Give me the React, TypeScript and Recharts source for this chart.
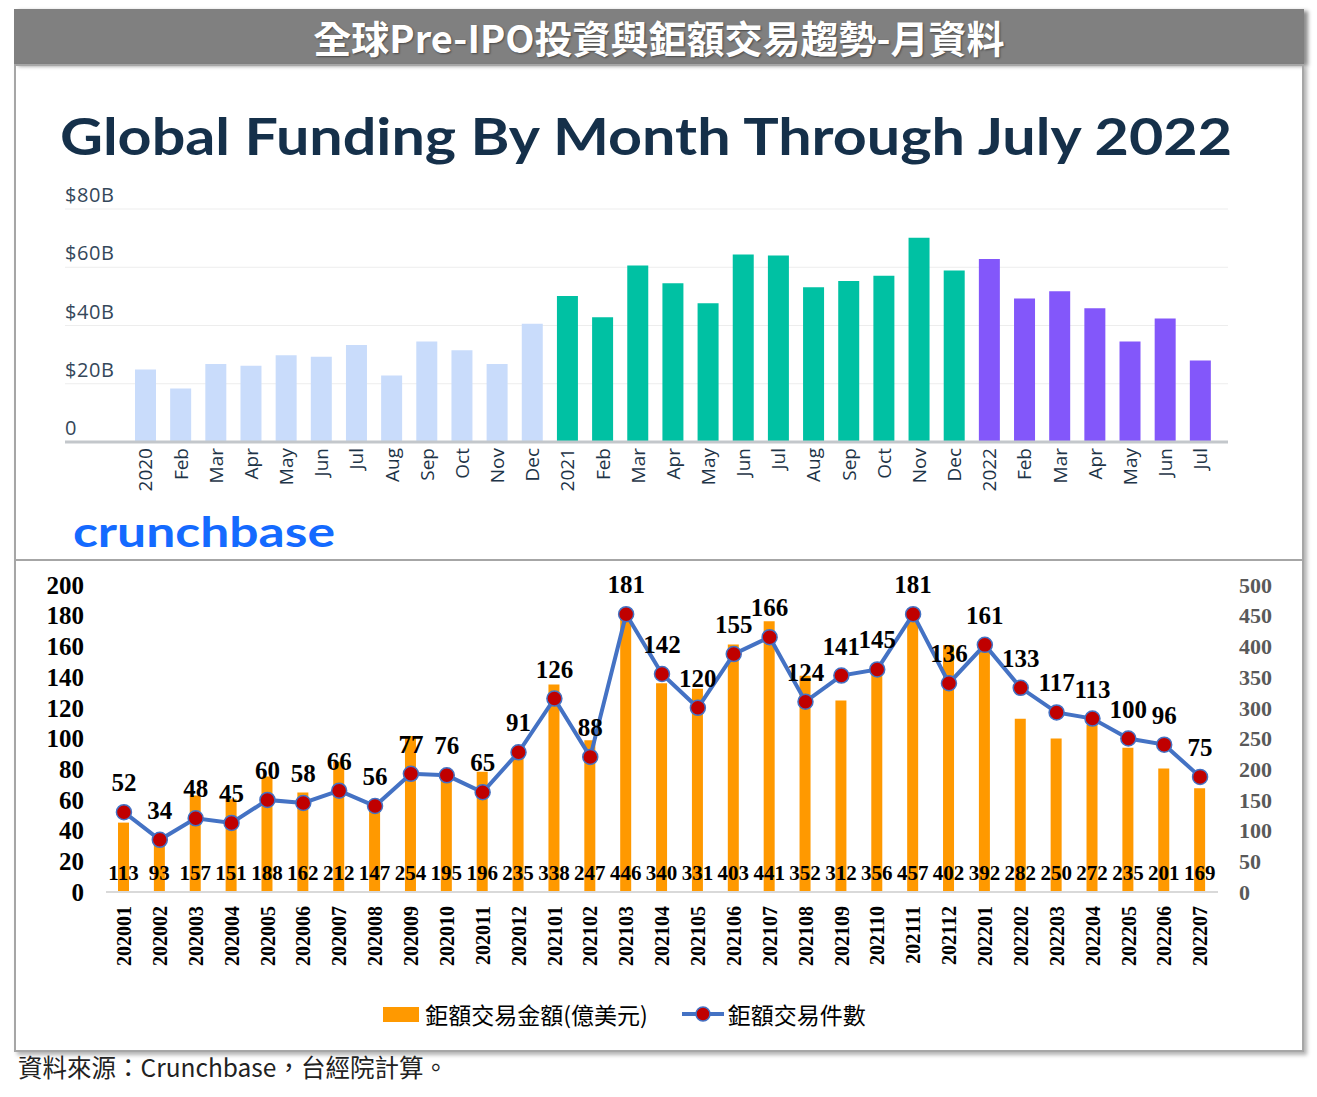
import React from 'react';
import {
  BarChart,
  Bar,
  XAxis,
  YAxis,
  CartesianGrid,
  Cell,
  ComposedChart,
  Line,
  LabelList,
  Legend,
} from 'recharts';

// ---------- Top chart (Crunchbase) data ----------
const topMonths = [
  '2020', 'Feb', 'Mar', 'Apr', 'May', 'Jun', 'Jul', 'Aug', 'Sep', 'Oct', 'Nov', 'Dec',
  '2021', 'Feb', 'Mar', 'Apr', 'May', 'Jun', 'Jul', 'Aug', 'Sep', 'Oct', 'Nov', 'Dec',
  '2022', 'Feb', 'Mar', 'Apr', 'May', 'Jun', 'Jul',
];
const topYears = [
  2020, 2020, 2020, 2020, 2020, 2020, 2020, 2020, 2020, 2020, 2020, 2020,
  2021, 2021, 2021, 2021, 2021, 2021, 2021, 2021, 2021, 2021, 2021, 2021,
  2022, 2022, 2022, 2022, 2022, 2022, 2022,
];
const topFunding = [
  24.9, 18.4, 26.8, 26.2, 29.8, 29.3, 33.3, 22.8, 34.5, 31.5, 26.8, 40.6,
  50.1, 42.8, 60.6, 54.5, 47.6, 64.4, 64.0, 53.1, 55.3, 57.1, 70.1, 58.9,
  62.8, 49.3, 51.8, 45.9, 34.5, 42.4, 28.0,
];
const topTicks = [0, 20, 40, 60, 80];
const topTickLabels = ['0', '$20B', '$40B', '$60B', '$80B'];
const yearColors: Record<number, string> = {
  2020: '#c9dcfb',
  2021: '#00c1a3',
  2022: '#8357fa',
};

// ---------- Bottom chart data ----------
const periods = [
  '202001', '202002', '202003', '202004', '202005', '202006', '202007', '202008',
  '202009', '202010', '202011', '202012', '202101', '202102', '202103', '202104',
  '202105', '202106', '202107', '202108', '202109', '202110', '202111', '202112',
  '202201', '202202', '202203', '202204', '202205', '202206', '202207',
];
const dealAmount = [
  113, 93, 157, 151, 188, 162, 212, 147, 254, 195, 196, 235, 338, 247, 446, 340,
  331, 403, 441, 352, 312, 356, 457, 402, 392, 282, 250, 272, 235, 201, 169,
];
const dealCount = [
  52, 34, 48, 45, 60, 58, 66, 56, 77, 76, 65, 91, 126, 88, 181, 142,
  120, 155, 166, 124, 141, 145, 181, 136, 161, 133, 117, 113, 100, 96, 75,
];
const leftTicks = [0, 20, 40, 60, 80, 100, 120, 140, 160, 180, 200];
const rightTicks = [0, 50, 100, 150, 200, 250, 300, 350, 400, 450, 500];

const topData = topMonths.map((m, i) => ({ month: m, value: topFunding[i], year: topYears[i] }));
const bottomData = periods.map((p, i) => ({ period: p, amount: dealAmount[i], count: dealCount[i] }));

const SERIF = '"Liberation Serif", "Times New Roman", serif';
const CJK = '"Noto Sans CJK TC", "Noto Sans CJK SC", sans-serif';
const SANS = '"Open Sans", "Noto Sans", sans-serif';

const TopXTick = (props: any) => {
  const { x, y, payload } = props;
  return (
    <text
      transform={`translate(${x},${y + 6}) rotate(-90)`}
      textAnchor="end"
      dy="0.36em"
      fill="#1e3447"
      fontSize={19}
      fontFamily={SANS}
    >
      {payload.value}
    </text>
  );
};

const TopYTick = (props: any) => {
  const { x, y, payload } = props;
  const idx = topTicks.indexOf(payload.value);
  return (
    <text x={x} y={y - 7} textAnchor="start" fill="#34475a" fontSize={20} letterSpacing={0.6} fontFamily={SANS}>
      {topTickLabels[idx]}
    </text>
  );
};

const BottomXTick = (props: any) => {
  const { x, y, payload } = props;
  return (
    <text
      transform={`translate(${x},${y + 14}) rotate(-90)`}
      textAnchor="end"
      dy="0.36em"
      fill="#000"
      fontSize={20}
      fontWeight={700}
      fontFamily={SERIF}
    >
      {payload.value}
    </text>
  );
};

const LeftTick = (props: any) => {
  const { x, y, payload } = props;
  return (
    <text x={x} y={y} dy="0.35em" textAnchor="end" fill="#000" fontSize={25} fontWeight={700} fontFamily={SERIF}>
      {payload.value}
    </text>
  );
};

const RightTick = (props: any) => {
  const { x, y, payload } = props;
  return (
    <text x={x} y={y} dy="0.35em" textAnchor="start" fill="#595959" fontSize={22} fontWeight={700} fontFamily={SERIF}>
      {payload.value}
    </text>
  );
};

const BarValueLabel = (props: any) => {
  const { x, y, width, height, value } = props;
  return (
    <text
      x={x + width / 2}
      y={y + height - 12}
      textAnchor="middle"
      fill="#000"
      fontSize={21}
      fontWeight={700}
      fontFamily={SERIF}
    >
      {value}
    </text>
  );
};

const LineValueLabel = (props: any) => {
  const { x, y, value } = props;
  return (
    <text x={x} y={y - 21} textAnchor="middle" fill="#000" fontSize={25} fontWeight={700} fontFamily={SERIF}>
      {value}
    </text>
  );
};

const LegendContent = (props: any) => {
  const items = [...(props.payload || [])].sort(
    (a: any, b: any) => (a.type === 'rect' ? 0 : 1) - (b.type === 'rect' ? 0 : 1)
  );
  return (
    <div
      style={{
        display: 'flex',
        justifyContent: 'center',
        alignItems: 'center',
        height: 50,
        paddingRight: 68,
        fontFamily: CJK,
        fontSize: 23,
        color: '#000',
      }}
    >
      {items.map((item: any, i: number) => (
        <div key={i} style={{ display: 'flex', alignItems: 'center', marginLeft: i === 0 ? 0 : 34 }}>
          {item.type === 'rect' ? (
            <span style={{ display: 'inline-block', width: 36, height: 15, background: '#ff9900', marginRight: 6 }} />
          ) : (
            <svg width={42} height={20} style={{ marginRight: 4 }}>
              <line x1={0} y1={10} x2={42} y2={10} stroke="#4472c4" strokeWidth={4} />
              <circle cx={21} cy={10} r={7} fill="#c00000" stroke="#4472c4" strokeWidth={1.5} />
            </svg>
          )}
          <span>{item.value}</span>
        </div>
      ))}
    </div>
  );
};

export default function App() {
  return (
    <div style={{ position: 'absolute', left: 0, top: 0, width: 1317, height: 1097, background: '#fff' }}>
      {/* banner */}
      <div
        style={{
          position: 'absolute',
          left: 14,
          top: 9,
          width: 1290,
          height: 55,
          background: '#808080',
          boxShadow: '4px 2px 4px rgba(0,0,0,0.45)',
          color: '#fff',
          fontFamily: CJK,
          fontWeight: 700,
          fontSize: 38,
          lineHeight: '55px',
          textAlign: 'center',
          textShadow: '1px 1px 2px rgba(0,0,0,0.45)',
        }}
      >
        全球Pre-IPO投資與鉅額交易趨勢-月資料
      </div>

      {/* frame */}
      <div
        style={{
          position: 'absolute',
          left: 14,
          top: 64,
          width: 1290,
          height: 988,
          boxSizing: 'border-box',
          border: '2px solid #a6a6a6',
          boxShadow: '3px 3px 4px rgba(0,0,0,0.3)',
        }}
      />
      <div style={{ position: 'absolute', left: 14, top: 559, width: 1290, height: 2, background: '#a6a6a6' }} />

      {/* top title */}
      <svg style={{ position: 'absolute', left: 0, top: 100 }} width={1317} height={70}>
        <text
          x={60}
          y={55}
          fontSize={52}
          fontWeight={700}
          fill="#15304a"
          fontFamily={'Lato, "Open Sans", sans-serif'}
          textLength={1172}
          lengthAdjust="spacingAndGlyphs"
        >
          Global Funding By Month Through July 2022
        </text>
      </svg>

      {/* top chart */}
      <div style={{ position: 'absolute', left: 0, top: 180 }}>
        <BarChart
          width={1317}
          height={320}
          data={topData}
          margin={{ top: 29, right: 89, bottom: 0, left: 0 }}
          barSize={21}
        >
          <CartesianGrid horizontal vertical={false} stroke="#ededed" />
          <XAxis
            dataKey="month"
            interval={0}
            height={58}
            padding={{ left: 63, right: 10 }}
            tickLine={false}
            tickSize={0}
            tickMargin={0}
            axisLine={{ stroke: '#c3c7cb', strokeWidth: 3 }}
            tick={(p: any) => <TopXTick {...p} />}
          />
          <YAxis
            domain={[0, 80]}
            ticks={topTicks}
            width={65}
            axisLine={false}
            tickLine={false}
            tickSize={0}
            tickMargin={0}
            tick={(p: any) => <TopYTick {...p} />}
          />
          <Bar dataKey="value" isAnimationActive={false}>
            {topData.map((d, i) => (
              <Cell key={i} fill={yearColors[d.year]} />
            ))}
          </Bar>
        </BarChart>
      </div>

      {/* crunchbase logo */}
      <svg style={{ position: 'absolute', left: 0, top: 505 }} width={400} height={50}>
        <text
          x={73}
          y={42}
          fontSize={42}
          fontWeight={700}
          fill="#146aff"
          fontFamily={'Lato, "Open Sans", sans-serif'}
          textLength={262}
          lengthAdjust="spacingAndGlyphs"
        >
          crunchbase
        </text>
      </svg>

      {/* bottom chart */}
      <div style={{ position: 'absolute', left: 0, top: 560 }}>
        <ComposedChart
          width={1317}
          height={492}
          data={bottomData}
          margin={{ top: 25, right: 20, bottom: 13, left: 20 }}
        >
          <XAxis
            dataKey="period"
            interval={0}
            height={97}
            tickLine={false}
            tickSize={0}
            tickMargin={0}
            axisLine={{ stroke: '#d9d9d9', strokeWidth: 2 }}
            tick={(p: any) => <BottomXTick {...p} />}
          />
          <YAxis
            yAxisId="left"
            orientation="left"
            domain={[0, 200]}
            ticks={leftTicks}
            width={86}
            axisLine={false}
            tickLine={false}
            tickSize={0}
            tickMargin={22}
            tick={(p: any) => <LeftTick {...p} />}
          />
          <YAxis
            yAxisId="right"
            orientation="right"
            domain={[0, 500]}
            ticks={rightTicks}
            width={79}
            axisLine={false}
            tickLine={false}
            tickSize={0}
            tickMargin={21}
            tick={(p: any) => <RightTick {...p} />}
          />
          <Bar
            yAxisId="right"
            dataKey="amount"
            name="鉅額交易金額(億美元)"
            fill="#ff9900"
            barSize={11}
            legendType="rect"
            isAnimationActive={false}
          >
            <LabelList dataKey="amount" content={(p: any) => <BarValueLabel {...p} />} />
          </Bar>
          <Line
            yAxisId="left"
            dataKey="count"
            name="鉅額交易件數"
            stroke="#4472c4"
            strokeWidth={4}
            legendType="line"
            dot={{ r: 7.5, fill: '#c00000', stroke: '#4472c4', strokeWidth: 1.5 }}
            activeDot={false}
            isAnimationActive={false}
          >
            <LabelList dataKey="count" content={(p: any) => <LineValueLabel {...p} />} />
          </Line>
          <Legend verticalAlign="bottom" height={50} content={(p: any) => <LegendContent {...p} />} />
        </ComposedChart>
      </div>

      {/* footer */}
      <div
        style={{
          position: 'absolute',
          left: 18,
          top: 1053,
          fontFamily: CJK,
          fontSize: 24.5,
          lineHeight: '28px',
          color: '#222',
          whiteSpace: 'nowrap',
        }}
      >
        資料來源：Crunchbase，台經院計算。
      </div>
    </div>
  );
}
